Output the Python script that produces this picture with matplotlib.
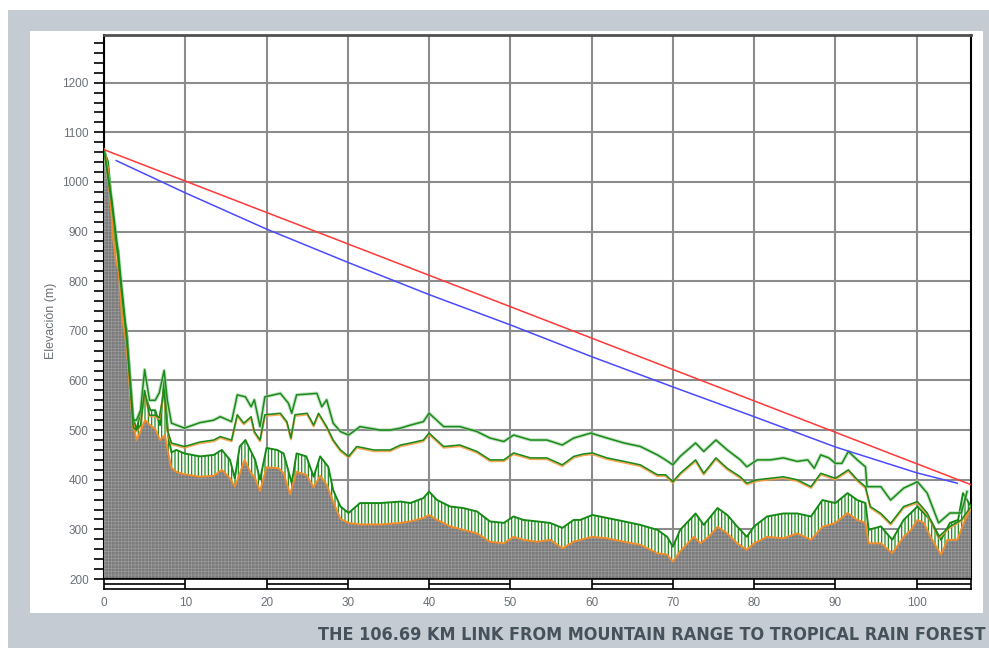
import numpy as np
import matplotlib
matplotlib.use("Agg")
import matplotlib.pyplot as plt
from matplotlib.patches import Rectangle
from matplotlib.transforms import offset_copy

# ---- data (km, metres) ----
LINK_KM = 106.69

terrain_km = [0.0, 0.5, 0.9, 1.15, 1.5, 1.8, 2.2, 2.8, 3.2, 3.6, 4.0, 4.4, 5.05, 5.7,
              6.3, 6.9, 7.5, 7.9, 8.3, 8.9, 9.9, 11.8, 13.5, 14.5, 15.5, 16.1, 16.7,
              17.3, 18.0, 18.6, 19.2, 20.0, 21.5, 22.1, 22.9, 23.7, 24.9, 25.8, 26.6,
              27.4, 28.2, 29.1, 30.1, 31.5, 34.0, 36.5, 37.7, 39.3, 40.0, 41.0, 42.6,
              44.2, 45.9, 47.5, 49.2, 50.4, 51.6, 53.3, 54.9, 56.4, 57.8, 58.6, 60.1,
              61.9, 64.0, 66.0, 68.1, 69.3, 70.0, 70.9, 72.6, 73.4, 74.4, 75.5, 76.7,
              77.9, 79.1, 80.0, 81.6, 83.6, 85.3, 87.0, 88.4, 90.0, 91.5, 92.7, 93.7,
              94.1, 95.6, 97.0, 98.4, 99.3, 100.1, 100.9, 101.7, 103.0, 103.8, 105.0,
              105.8, 106.69]
terrain_m = [1065, 1025, 938, 883, 837, 823, 729, 668, 581, 514, 480, 494, 520, 510,
             502, 480, 490, 454, 424, 416, 411, 406, 408, 420, 403, 386, 412,
             440, 416, 403, 377, 425, 423, 413, 371, 416, 410, 385, 408,
             390, 356, 321, 313, 310, 310, 313, 316, 323, 329, 319, 306,
             299, 292, 275, 272, 285, 279, 275, 279, 262, 275, 279, 285,
             282, 275, 269, 252, 249, 235, 256, 285, 272, 285, 305, 292,
             272, 259, 272, 285, 282, 292, 279, 305, 313, 333, 319, 313,
             272, 272, 252, 285, 299, 319, 313, 285, 249, 279, 279,
             313, 343]

clutter_km = [0.0, 0.5, 0.9, 1.15, 1.5, 1.8, 2.2, 2.8, 3.2, 3.6, 4.0, 4.4, 5.05, 5.7,
              6.3, 6.9, 7.4, 7.9, 8.3, 8.9, 9.9, 11.8, 13.5, 14.5, 15.5, 16.1, 16.7,
              17.4, 18.0, 18.6, 19.2, 20.0, 21.3, 22.1, 23.1, 23.7, 24.9, 25.8, 26.6,
              27.6, 28.2, 29.1, 30.1, 31.5, 34.0, 36.5, 37.7, 39.3, 40.0, 41.0, 42.6,
              44.2, 45.9, 47.5, 49.2, 50.4, 51.6, 53.3, 54.9, 56.4, 57.8, 58.6, 60.1,
              61.9, 64.0, 66.0, 68.1, 69.3, 70.0, 70.9, 72.8, 73.8, 75.5, 76.7, 77.9,
              79.1, 80.0, 81.6, 83.6, 85.3, 87.0, 88.4, 90.0, 91.5, 92.7, 93.7, 94.1,
              95.6, 97.0, 98.4, 100.1, 101.7, 103.0, 104.1, 105.1, 105.7, 106.69]
clutter_m = [1065, 1040, 971, 900, 877, 860, 742, 702, 615, 525, 500, 530, 570, 540,
             540, 510, 600, 490, 455, 460, 453, 447, 450, 460, 440, 403, 467,
             480, 460, 440, 400, 464, 460, 453, 393, 453, 447, 406, 447,
             426, 379, 346, 333, 353, 353, 356, 353, 363, 376, 359, 346,
             343, 336, 316, 313, 326, 319, 316, 313, 303, 319, 319, 329,
             323, 316, 309, 299, 285, 265, 299, 332, 309, 343, 329, 306,
             285, 306, 326, 332, 332, 326, 359, 353, 373, 359, 353, 299,
             306, 279, 319, 346, 319, 279, 313, 319, 373, 346]

mid_km = [0.0, 1.0, 1.8, 2.8, 3.2, 3.6, 4.0, 4.5, 5.0, 5.6, 6.3, 6.8, 7.4, 7.8, 8.3,
          9.9, 11.8, 13.5, 14.3, 15.7, 16.4, 17.2, 18.1, 18.5, 19.2, 19.8, 21.7,
          22.5, 23.0, 23.5, 25.0, 25.8, 26.4, 27.4, 28.2, 29.1, 30.1, 31.1, 33.2,
          35.2, 36.5, 37.7, 39.3, 40.0, 41.8, 43.8, 45.9, 47.5, 49.2, 50.4, 52.5,
          54.5, 56.4, 57.8, 59.0, 60.1, 61.9, 64.0, 66.0, 68.1, 69.1, 70.0, 70.9,
          72.8, 73.8, 75.3, 76.7, 78.3, 79.1, 80.4, 82.0, 83.6, 85.3, 87.0, 88.2,
          90.0, 91.6, 92.7, 93.7, 94.3, 95.6, 96.8, 98.4, 100.1, 101.3, 102.7,
          104.1, 105.5, 106.69]
mid_m = [1065, 950, 835, 680, 595, 505, 500, 510, 580, 530, 530, 525, 580, 500, 474,
         467, 476, 480, 487, 480, 531, 514, 527, 497, 480, 531, 534,
         517, 484, 531, 534, 510, 534, 507, 480, 460, 447, 467, 460,
         460, 470, 474, 480, 494, 467, 470, 457, 440, 440, 454, 444,
         444, 430, 447, 452, 454, 444, 437, 430, 410, 410, 396, 413,
         440, 413, 444, 423, 406, 393, 400, 403, 406, 400, 386, 413,
         403, 420, 400, 386, 346, 332, 312, 346, 356, 333, 285,
         306, 319, 346]

top_km = [0.0, 1.0, 1.8, 2.8, 3.2, 3.6, 4.0, 4.5, 5.0, 5.6, 6.3, 6.8, 7.4, 7.8, 8.3,
          9.9, 11.8, 13.5, 14.3, 15.7, 16.4, 17.4, 18.1, 18.5, 19.2, 19.8, 21.7,
          22.7, 23.1, 23.7, 26.2, 26.8, 27.4, 28.2, 29.1, 30.1, 31.5, 34.0, 35.2,
          36.5, 37.7, 39.3, 40.0, 41.8, 43.8, 45.9, 47.5, 49.2, 50.4, 52.5, 54.5,
          56.4, 57.8, 59.9, 61.9, 64.0, 66.0, 68.1, 69.1, 70.0, 70.9, 72.8, 73.8,
          75.3, 76.7, 78.3, 79.1, 80.4, 82.0, 83.6, 85.3, 86.6, 87.4, 88.2, 89.2,
          90.0, 90.8, 91.6, 92.7, 93.7, 93.9, 95.6, 96.8, 98.4, 100.1, 101.3,
          102.7, 104.1, 105.5, 106.2]
top_m = [1065, 960, 850, 690, 605, 520, 520, 540, 622, 560, 560, 575, 620, 560, 514,
         504, 515, 520, 527, 517, 571, 567, 547, 561, 507, 567, 574,
         554, 534, 571, 574, 547, 561, 514, 497, 490, 507, 500, 500,
         504, 510, 517, 534, 507, 507, 497, 484, 477, 490, 480, 480,
         470, 484, 494, 484, 474, 467, 450, 440, 430, 447, 474, 457,
         480, 460, 440, 426, 440, 440, 444, 437, 440, 423, 450, 444,
         433, 433, 457, 440, 426, 386, 386, 359, 383, 396, 373,
         313, 333, 333, 376]

# line of sight (red) and fresnel clearance (blue)
los_km = [0.0, 106.69]
los_m = [1065, 390]
fresnel_km = [1.5, 10, 20, 30, 40, 50, 60, 70, 80, 90, 100, 105]
fresnel_m = [1043, 978, 905, 838, 773, 712, 648, 587, 527, 466, 414, 393]

caption = "THE 106.69 KM LINK FROM MOUNTAIN RANGE TO TROPICAL RAIN FOREST"

# ---- figure ----
W, H = 989, 648
fig = plt.figure(figsize=(W / 100, H / 100), dpi=100)
fig.patch.set_facecolor("white")


def px_rect(x0, y0, x1, y1, color):
    # pixel box -> figure fraction rectangle behind the axes
    fig.patches.append(Rectangle((x0 / W, 1 - y1 / H), (x1 - x0) / W, (y1 - y0) / H,
                                 transform=fig.transFigure, facecolor=color,
                                 edgecolor="none", zorder=-5))


px_rect(8, 10, 989, 648, "#c4cbd2")
px_rect(30, 31, 983, 613, "white")

ax = fig.add_axes([104 / W, 1 - 579 / H, 867 / W, 544 / H])
axb = fig.add_axes([104 / W, 1 - 589 / H, 867 / W, 10 / H], sharex=ax)

ax.set_xlim(0, LINK_KM)
ax.set_ylim(200, 1296)

# grid
ax.set_xticks(np.arange(0, 101, 10))
ax.set_xticks(np.arange(0, 107, 2), minor=True)
ax.set_yticks(np.arange(200, 1201, 100))
ax.set_yticks(np.arange(200, 1296, 20), minor=True)
ax.grid(which="major", color="#8c8c8c", lw=1.5, zorder=1)

label_col = "#6a7077"
ax.tick_params(axis="y", which="both", direction="out", length=7, width=1.2,
               color="black", labelsize=8.5, labelcolor=label_col, pad=4)
ax.tick_params(axis="x", which="both", direction="in", length=7, width=1.2,
               color="black", labelbottom=False)
for lab in ax.get_yticklabels():
    lab.set_fontfamily("Liberation Sans")

# terrain clutter hatch (green vertical strokes)
plt.rcParams["hatch.linewidth"] = 0.9
ax.fill_between(clutter_km, 200, clutter_m, facecolor="white", edgecolor="#1e8c1e",
                hatch="|||||", linewidth=0, zorder=2)
ax.plot(clutter_km, clutter_m, color="#168a16", lw=1.4, zorder=4)

# terrain
plt.rcParams["hatch.linewidth"] = 0.5
ax.fill_between(terrain_km, 200, terrain_m, facecolor="#7b7b7b", edgecolor="#9b9b9b",
                hatch="+++++", linewidth=0, zorder=3)
ax.plot(terrain_km, terrain_m, color="#f28c28", lw=1.4, zorder=5)

# upper profiles: orange fringe drawn a pixel below the green line
below = offset_copy(ax.transData, fig=fig, x=0, y=-1.2, units="dots")
ax.plot(mid_km, mid_m, color="#f29a3a", lw=1.6, alpha=0.85, zorder=4, transform=below)
ax.plot(mid_km, mid_m, color="#1a8a1a", lw=1.1, zorder=5)
ax.plot(top_km, top_m, color="#9ccf9c", lw=2.6, alpha=0.6, zorder=4)
ax.plot(top_km, top_m, color="#1a8a1a", lw=1.1, zorder=5)

# los + fresnel
ax.plot(los_km, los_m, color="#ff3838", lw=1.1, zorder=6)
ax.plot(fresnel_km, fresnel_m, color="#4a4aff", lw=1.1, zorder=6)

for side in ["left", "right", "bottom"]:
    ax.spines[side].set_color("black")
    ax.spines[side].set_linewidth(1.5)
ax.spines["top"].set_color("#505050")
ax.spines["top"].set_linewidth(2)
ax.spines["bottom"].set_zorder(7)

# distance scale bar under the profile
axb.set_ylim(0, 1)
axb.set_yticks([])
for side in axb.spines:
    axb.spines[side].set_color("black")
    axb.spines[side].set_linewidth(1.2)
axb.tick_params(axis="x", which="both", length=0, labelsize=8.5, labelcolor=label_col, pad=6)
for lab in axb.get_xticklabels():
    lab.set_fontfamily("Liberation Sans")
axb.vlines(np.arange(10, 101, 10), 0, 1, color="black", lw=1.2)
for start in range(0, 107, 20):
    axb.hlines(0.5, start, min(start + 10, LINK_KM), color="black", lw=1.2)

fig.text(51 / W, 1 - 321 / H, "Elevación (m)", rotation=90, ha="center", va="center",
         fontsize=9, color=label_col, family="Liberation Sans")

fig.text(985 / W, 1 - 635 / H, caption, ha="right", va="center", fontsize=12.9,
         fontweight="bold", fontstretch="condensed", color="#45525c",
         family=["DejaVu Sans"])

fig.savefig("out.png", dpi=100)
